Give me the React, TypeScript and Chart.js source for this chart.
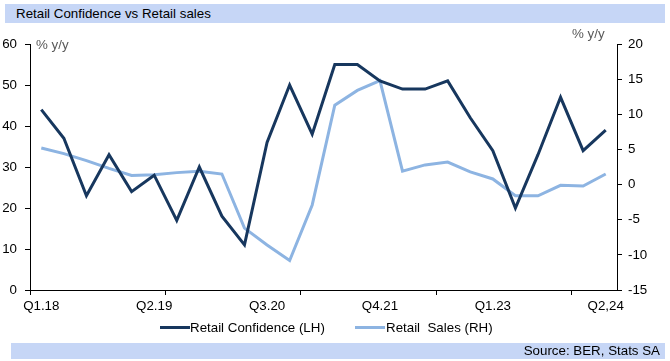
import React, { useEffect, useRef } from "react";
import { Chart, registerables } from "chart.js";

Chart.register(...registerables);

const quarters = [
  "Q1.18", "Q2.18", "Q3.18", "Q4.18",
  "Q1.19", "Q2.19", "Q3.19", "Q4.19",
  "Q1.20", "Q2.20", "Q3.20", "Q4.20",
  "Q1.21", "Q2.21", "Q3.21", "Q4.21",
  "Q1.22", "Q2.22", "Q3.22", "Q4.22",
  "Q1.23", "Q2.23", "Q3.23", "Q4.23",
  "Q1.24", "Q2,24",
];

const retailConfidence = [
  44, 37, 23, 33, 24, 28, 17, 30, 18, 11, 36, 50, 38,
  55, 55, 51, 49, 49, 51, 42, 34, 20, 33, 47, 34, 39,
];

const retailSales = [
  5.2, 4.4, 3.4, 2.3, 1.3, 1.4, 1.7, 1.9, 1.5, -6.2, -8.6, -10.8, -2.9,
  11.3, 13.4, 14.8, 1.9, 2.8, 3.2, 1.8, 0.8, -1.6, -1.6, -0.1, -0.2, 1.5,
];

const leftTicks = { min: 0, max: 60, step: 10 };
const rightTicks = { min: -15, max: 20, step: 5 };

const DARK = "#17375e";
const LIGHT = "#8db4e2";
const BAND = "#c6d6f6";
const FONT = "'Liberation Sans', Arial, sans-serif";
const FS = 13.33;

export default function App() {
  const canvasRef = useRef<HTMLCanvasElement | null>(null);

  useEffect(() => {
    const canvas = canvasRef.current;
    if (!canvas) return;
    const chart = new Chart(canvas, {
      type: "line",
      data: {
        labels: quarters,
        datasets: [
          {
            label: "Retail Confidence (LH)",
            data: retailConfidence,
            borderColor: DARK,
            backgroundColor: DARK,
            borderWidth: 3,
            pointRadius: 0,
            tension: 0,
            yAxisID: "y",
          },
          {
            label: "Retail  Sales (RH)",
            data: retailSales,
            borderColor: LIGHT,
            backgroundColor: LIGHT,
            borderWidth: 3,
            pointRadius: 0,
            tension: 0,
            yAxisID: "y1",
          },
        ],
      },
      options: {
        responsive: false,
        animation: false,
        layout: { padding: { left: 0, right: 0, top: 44, bottom: 41 } },
        plugins: {
          legend: { display: false },
          title: { display: false },
          tooltip: { enabled: false },
        },
        scales: {
          x: {
            type: "category",
            offset: true,
            grid: {
              offset: true,
              drawOnChartArea: false,
              drawTicks: true,
              tickLength: 5,
              tickColor: (c: any) =>
                c.index % 6 === 0 || c.index === quarters.length ? "#000" : "rgba(0,0,0,0)",
            },
            border: { display: true, color: "#000", width: 1 },
            ticks: {
              autoSkip: false,
              maxRotation: 0,
              minRotation: 0,
              padding: 3,
              color: "#000",
              font: { family: FONT, size: FS },
              callback: (_v: any, i: number) => (i % 5 === 0 ? quarters[i] : ""),
            },
            afterFit: (s: any) => {
              s.height = 30;
            },
          },
          y: {
            position: "left",
            min: leftTicks.min,
            max: leftTicks.max,
            grid: {
              drawOnChartArea: false,
              drawTicks: true,
              tickLength: 5,
              tickColor: "#000",
            },
            border: { display: true, color: "#000", width: 1 },
            ticks: {
              stepSize: leftTicks.step,
              padding: 8,
              color: "#000",
              font: { family: FONT, size: FS },
            },
            afterFit: (s: any) => {
              s.width = 30;
            },
          },
          y1: {
            position: "right",
            min: rightTicks.min,
            max: rightTicks.max,
            grid: {
              drawOnChartArea: false,
              drawTicks: true,
              tickLength: 5,
              tickColor: "#000",
            },
            border: { display: true, color: "#000", width: 1 },
            ticks: {
              stepSize: rightTicks.step,
              padding: 6,
              color: "#000",
              font: { family: FONT, size: FS },
            },
            afterFit: (s: any) => {
              s.width = 53;
            },
          },
        },
      },
    });
    return () => chart.destroy();
  }, []);

  const text: React.CSSProperties = {
    position: "absolute",
    fontFamily: FONT,
    fontSize: FS,
    lineHeight: "16px",
    color: "#000",
    whiteSpace: "pre",
  };

  return (
    <div
      style={{
        position: "fixed",
        left: 0,
        top: 0,
        width: 670,
        height: 361,
        background: "#fff",
        overflow: "hidden",
      }}
    >
      <div style={{ position: "absolute", left: 5, top: 4, width: 660, height: 19, background: BAND }} />
      <div style={{ ...text, left: 16, top: 6 }}>Retail Confidence vs Retail sales</div>

      <canvas ref={canvasRef} width={670} height={361} style={{ position: "absolute", left: 0, top: 0 }} />

      <div style={{ ...text, left: 36, top: 37, color: "#595959" }}>% y/y</div>
      <div style={{ ...text, left: 572, top: 26, color: "#595959" }}>% y/y</div>

      <div style={{ position: "absolute", left: 160, top: 326, width: 30, height: 3, background: DARK }} />
      <div style={{ ...text, left: 190, top: 320 }}>Retail Confidence (LH)</div>
      <div style={{ position: "absolute", left: 355, top: 326, width: 30, height: 3, background: LIGHT }} />
      <div style={{ ...text, left: 386, top: 320 }}>Retail  Sales (RH)</div>

      <div style={{ position: "absolute", left: 11, top: 343, width: 654, height: 16, background: BAND }} />
      <div style={{ ...text, right: 10, top: 343 }}>Source: BER, Stats SA</div>
    </div>
  );
}
